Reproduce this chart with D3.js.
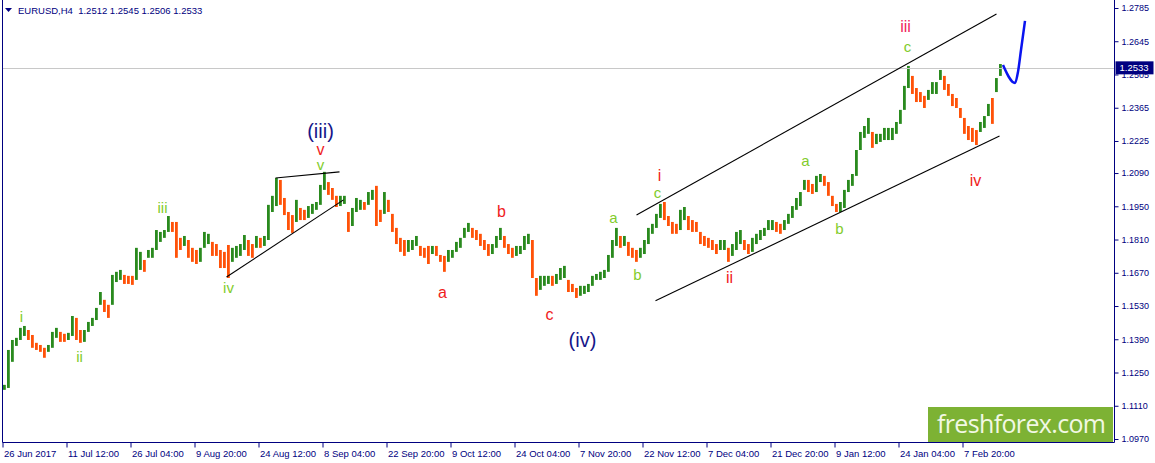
<!DOCTYPE html>
<html>
<head>
<meta charset="utf-8">
<style>
    body {
        margin: 0;
        background: #fff;
    }
    svg {
        display: block;
        font-family: "Liberation Sans", Arial, sans-serif;
    }
    .axis text {
        fill: #000080;
        font-size: 9.5px;
    }
    .axis line {
        stroke: #000080;
    }
</style>
</head>
<body>
<svg id="chart" width="1155" height="463"></svg>

<script src="https://d3js.org/d3.v7.min.js"></script>
<script>
// EURUSD H4, one entry = 4 bars (high / low of the group)
const highs = [
    1.1198, 1.1345, 1.1387, 1.1396, 1.1438, 1.1446, 1.1429, 1.1408, 1.1375, 1.1366,
    1.1354, 1.1366, 1.1421, 1.1438, 1.1421, 1.1413, 1.1417, 1.1488, 1.1480, 1.1429,
    1.1429, 1.1463, 1.1480, 1.1522, 1.1589, 1.1556, 1.1535, 1.1661, 1.1674, 1.1682,
    1.1661, 1.1657, 1.1657, 1.1775, 1.1758, 1.1724, 1.1766, 1.1775, 1.1850, 1.1842,
    1.1850, 1.1909, 1.1884, 1.1884, 1.1817, 1.1825, 1.1808, 1.1775, 1.1766, 1.1775,
    1.1842, 1.1834, 1.1800, 1.1791, 1.1766, 1.1758, 1.1787, 1.1775, 1.1783, 1.1791,
    1.1829, 1.1808, 1.1791, 1.1825, 1.1817, 1.1825, 1.1956, 1.1994, 1.2069, 1.2061,
    1.1985, 1.1926, 1.1913, 1.1977, 1.1943, 1.1935, 1.1951, 1.1960, 1.1968, 1.2040,
    1.2095, 1.2052, 1.2027, 1.1994, 1.1994, 1.1994, 1.1926, 1.1943, 1.1985, 1.1977,
    1.1968, 1.2010, 1.2019, 1.2036, 1.1935, 1.2010, 1.1977, 1.1918, 1.1859, 1.1817,
    1.1808, 1.1808, 1.1808, 1.1825, 1.1783, 1.1775, 1.1783, 1.1783, 1.1783, 1.1745,
    1.1741, 1.1766, 1.1766, 1.1800, 1.1817, 1.1859, 1.1880, 1.1859, 1.1850, 1.1834,
    1.1808, 1.1791, 1.1791, 1.1825, 1.1859, 1.1825, 1.1791, 1.1775, 1.1783, 1.1783,
    1.1825, 1.1834, 1.1808, 1.1648, 1.1657, 1.1657, 1.1657, 1.1657, 1.1665, 1.1690,
    1.1699, 1.1640, 1.1623, 1.1606, 1.1615, 1.1615, 1.1623, 1.1657, 1.1665, 1.1674,
    1.1682, 1.1745, 1.1808, 1.1859, 1.1825, 1.1825, 1.1800, 1.1775, 1.1766, 1.1775,
    1.1808, 1.1859, 1.1876, 1.1918, 1.1960, 1.1968, 1.1909, 1.1884, 1.1876, 1.1935,
    1.1947, 1.1909, 1.1892, 1.1884, 1.1842, 1.1825, 1.1817, 1.1808, 1.1791, 1.1808,
    1.1808, 1.1775, 1.1791, 1.1842, 1.1850, 1.1808, 1.1791, 1.1817, 1.1834, 1.1850,
    1.1859, 1.1892, 1.1892, 1.1884, 1.1876, 1.1892, 1.1918, 1.1951, 1.1985, 1.2010,
    1.2061, 1.2061, 1.2044, 1.2078, 1.2086, 1.2078, 1.2052, 1.1994, 1.1960, 1.1968,
    1.2019, 1.2061, 1.2086, 1.2187, 1.2263, 1.2288, 1.2322, 1.2263, 1.2255, 1.2255,
    1.2280, 1.2280, 1.2280, 1.2305, 1.2356, 1.2457, 1.2541, 1.2499, 1.2448, 1.2431,
    1.2415, 1.2440, 1.2473, 1.2473, 1.2524, 1.2499, 1.2465, 1.2423, 1.2406, 1.2364,
    1.2322, 1.2288, 1.2280, 1.2271, 1.2305, 1.2330, 1.2381, 1.2406, 1.2490, 1.2549
];
const lows = [
    1.1177, 1.1185, 1.1295, 1.1362, 1.1387, 1.1404, 1.1387, 1.1354, 1.1345, 1.1337,
    1.1312, 1.1337, 1.1354, 1.1396, 1.1379, 1.1379, 1.1387, 1.1404, 1.1387, 1.1375,
    1.1379, 1.1421, 1.1446, 1.1471, 1.1535, 1.1505, 1.1480, 1.1535, 1.1631, 1.1640,
    1.1623, 1.1623, 1.1619, 1.1640, 1.1682, 1.1674, 1.1733, 1.1733, 1.1766, 1.1800,
    1.1817, 1.1842, 1.1842, 1.1733, 1.1766, 1.1783, 1.1733, 1.1716, 1.1707, 1.1716,
    1.1775, 1.1791, 1.1741, 1.1741, 1.1690, 1.1690, 1.1648, 1.1716, 1.1733, 1.1741,
    1.1766, 1.1741, 1.1733, 1.1775, 1.1775, 1.1783, 1.1808, 1.1926, 1.1951, 1.1956,
    1.1913, 1.1850, 1.1838, 1.1884, 1.1892, 1.1892, 1.1901, 1.1918, 1.1935, 1.1956,
    1.2019, 1.1998, 1.1977, 1.1947, 1.1951, 1.1960, 1.1842, 1.1867, 1.1926, 1.1935,
    1.1935, 1.1956, 1.1977, 1.1867, 1.1884, 1.1918, 1.1926, 1.1842, 1.1791, 1.1758,
    1.1741, 1.1758, 1.1766, 1.1783, 1.1741, 1.1733, 1.1707, 1.1749, 1.1741, 1.1716,
    1.1674, 1.1716, 1.1733, 1.1758, 1.1775, 1.1817, 1.1842, 1.1817, 1.1808, 1.1783,
    1.1766, 1.1741, 1.1749, 1.1775, 1.1808, 1.1775, 1.1749, 1.1733, 1.1741, 1.1749,
    1.1766, 1.1791, 1.1648, 1.1573, 1.1598, 1.1615, 1.1623, 1.1615, 1.1623, 1.1640,
    1.1648, 1.1589, 1.1589, 1.1564, 1.1573, 1.1581, 1.1589, 1.1615, 1.1640, 1.1640,
    1.1648, 1.1674, 1.1733, 1.1783, 1.1775, 1.1783, 1.1741, 1.1733, 1.1716, 1.1733,
    1.1749, 1.1791, 1.1834, 1.1859, 1.1901, 1.1892, 1.1867, 1.1834, 1.1834, 1.1850,
    1.1892, 1.1850, 1.1842, 1.1842, 1.1791, 1.1783, 1.1775, 1.1766, 1.1749, 1.1766,
    1.1766, 1.1716, 1.1741, 1.1766, 1.1791, 1.1766, 1.1749, 1.1758, 1.1791, 1.1808,
    1.1825, 1.1850, 1.1850, 1.1842, 1.1834, 1.1850, 1.1876, 1.1901, 1.1935, 1.1951,
    1.2019, 1.2010, 1.2002, 1.2010, 1.2052, 1.2036, 1.1994, 1.1951, 1.1926, 1.1926,
    1.1943, 1.2010, 1.2036, 1.2078, 1.2187, 1.2238, 1.2255, 1.2196, 1.2212, 1.2221,
    1.2229, 1.2229, 1.2229, 1.2255, 1.2297, 1.2356, 1.2448, 1.2423, 1.2389, 1.2389,
    1.2364, 1.2398, 1.2423, 1.2423, 1.2482, 1.2440, 1.2415, 1.2372, 1.2364, 1.2322,
    1.2255, 1.2229, 1.2221, 1.2208, 1.2263, 1.2280, 1.2330, 1.2297, 1.2431, 1.2499
];
const barsPerGroup = 4;

const priceTicks = [1.2785, 1.2645, 1.2505, 1.2365, 1.2225, 1.2090, 1.1950,
    1.1810, 1.1670, 1.1530, 1.1390, 1.1250, 1.1110, 1.0970];
const timeTicks = [0, 64, 128, 192, 256, 320, 384, 448, 512, 576, 640, 704, 768, 832, 896, 960];
const timeLabels = ["26 Jun 2017", "11 Jul 12:00", "26 Jul 04:00", "9 Aug 20:00",
    "24 Aug 12:00", "8 Sep 04:00", "22 Sep 20:00", "9 Oct 12:00", "24 Oct 04:00",
    "7 Nov 20:00", "22 Nov 12:00", "7 Dec 04:00", "21 Dec 20:00", "9 Jan 12:00",
    "24 Jan 04:00", "7 Feb 20:00"];
const lastBar = { open: 1.2512, high: 1.2545, low: 1.2506, close: 1.2533 };

// wave counts: [text, bar, price]
const minorWaves = [["i", 19, 1.1484], ["ii", 77, 1.1316], ["iii", 160, 1.1943],
    ["iv", 226, 1.1610], ["v", 318, 1.2124], ["a", 611, 1.1901], ["b", 635, 1.1661],
    ["c", 655, 1.2006], ["a", 803, 1.2141], ["b", 837, 1.1855], ["c", 905, 1.2621]];
const minuteWaves = [["v", 318, 1.2189], ["a", 440, 1.1589], ["b", 499, 1.1930],
    ["c", 547, 1.1493], ["i", 657, 1.2078], ["ii", 727, 1.1648], ["iii", 903, 1.2709],
    ["iv", 973, 1.2057]];
const intermediateWaves = [["(iii)", 318, 1.2267], ["(iv)", 580, 1.1387]];

// drawn lines: pairs of [bar, price]
const trendLines = [
    [[273, 1.2069], [337, 1.2095]],
    [[224, 1.1652], [341, 1.1977]],
    [[634, 1.1913], [994, 1.2760]],
    [[653, 1.1552], [997, 1.2246]]
];
const forecast = [[1000.5, 1.2545], [1012.5, 1.2469], [1015.5, 1.2516],
    [1018.5, 1.2608], [1022.5, 1.2731]];

const svg = d3.select("#chart");
const left = 2.5, right = 1114.5, bottom = 442.5;

let x = d3.scaleLinear()
    .domain([0, 1000])
    .range([left, left + 1000]);

let y = d3.scaleLinear()
    .domain([1.0970, 1.2785])
    .range([439, 8]);

// bars: thin sticks so the ribbon stays light like the 1px MT4 bars
let bullColor = "#2a8a1e", bearColor = "#ff5208";
let step = x(barsPerGroup) - x(0);
svg.append("g")
    .selectAll("rect")
    .data(highs)
    .join("rect")
    .attr("x", (d, i) => x(i * barsPerGroup) + 0.5)
    .attr("width", step - 1.2)
    .attr("y", d => y(d))
    .attr("height", (d, i) => Math.max(1, y(lows[i]) - y(d)))
    .attr("fill", (d, i) => {
        if (i == 0) return bullColor
        let mid = d + lows[i], prev = highs[i - 1] + lows[i - 1]
        return mid >= prev ? bullColor : bearColor
    });

// current price line
svg.append("line")
    .attr("x1", left).attr("x2", right)
    .attr("y1", Math.round(y(lastBar.close)) + 0.5)
    .attr("y2", Math.round(y(lastBar.close)) + 0.5)
    .style("stroke", "#c8c8c8");

// trend lines
let lineGen = d3.line().x(d => x(d[0])).y(d => y(d[1]));
svg.append("g")
    .selectAll("path")
    .data(trendLines)
    .join("path")
    .attr("d", lineGen)
    .style("fill", "none")
    .style("stroke", "#000")
    .style("stroke-width", 1.1);

svg.append("path")
    .datum(forecast)
    .attr("d", lineGen.curve(d3.curveMonotoneX))
    .style("fill", "none")
    .style("stroke", "#0a14f0")
    .style("stroke-width", 2.5);

// wave labels
function waveText(list, color, size) {
    return svg.append("g")
        .selectAll("text")
        .data(list)
        .join("text")
        .attr("x", d => x(d[1]))
        .attr("y", d => y(d[2]))
        .attr("text-anchor", "middle")
        .attr("dominant-baseline", "central")
        .style("fill", color)
        .style("font-size", size + "px")
        .text(d => d[0]);
}
waveText(minorWaves, "#82cc2c", 15);
waveText(minuteWaves, "#f01c1c", 16)
    .filter(d => d[0] == "iii")
    .style("fill", "#f0285c");
waveText(intermediateWaves, "#16168a", 20);

// watermark
svg.append("rect")
    .attr("x", 928).attr("y", 407)
    .attr("width", 185).attr("height", 35)
    .attr("fill", "#7db234");
svg.append("text")
    .attr("x", 937).attr("y", 433)
    .attr("textLength", 169)
    .style("font-family", "'Open Sans', sans-serif")
    .style("font-size", "25px")
    .style("fill", "#f2f8e4")
    .text("freshforex.com");

// axes
let yAxis = svg.append("g")
    .attr("class", "axis")
    .attr("transform", `translate(${right},0)`)
    .call(d3.axisRight(y).tickValues(priceTicks).tickFormat(d3.format(".4f")).tickSize(4).tickPadding(3))
    .call(g => g.select(".domain").remove());
yAxis.selectAll("text").style("font-size", "9px");

svg.append("g")
    .attr("class", "axis")
    .attr("transform", `translate(0,${bottom})`)
    .call(d3.axisBottom(x).tickValues(timeTicks).tickFormat((d, i) => timeLabels[i]).tickSize(5).tickPadding(3))
    .call(g => g.select(".domain").remove())
    .call(g => g.selectAll("text").attr("text-anchor", "start").attr("x", 1));

// frame
svg.append("path")
    .attr("d", `M${left},0V${bottom}H${right}V0`)
    .style("fill", "none")
    .style("stroke", "#000080");

// current price tag
let tagY = y(lastBar.close);
svg.append("rect")
    .attr("x", right + 1).attr("y", tagY - 6.5)
    .attr("width", 38).attr("height", 13)
    .attr("fill", "#000080");
svg.append("text")
    .attr("x", right + 5).attr("y", tagY)
    .attr("dominant-baseline", "central")
    .style("fill", "#fff")
    .style("font-size", "9.5px")
    .text(lastBar.close.toFixed(4));

// header
svg.append("path")
    .attr("d", "M5,8H12L8.5,12Z")
    .attr("fill", "#000080");
svg.append("text")
    .attr("x", 18).attr("y", 14)
    .style("fill", "#000080")
    .style("font-size", "9.5px")
    .style("white-space", "pre")
    .text(`EURUSD,H4  ${lastBar.open.toFixed(4)} ${lastBar.high.toFixed(4)} ${lastBar.low.toFixed(4)} ${lastBar.close.toFixed(4)}`);
</script>
</body>
</html>
